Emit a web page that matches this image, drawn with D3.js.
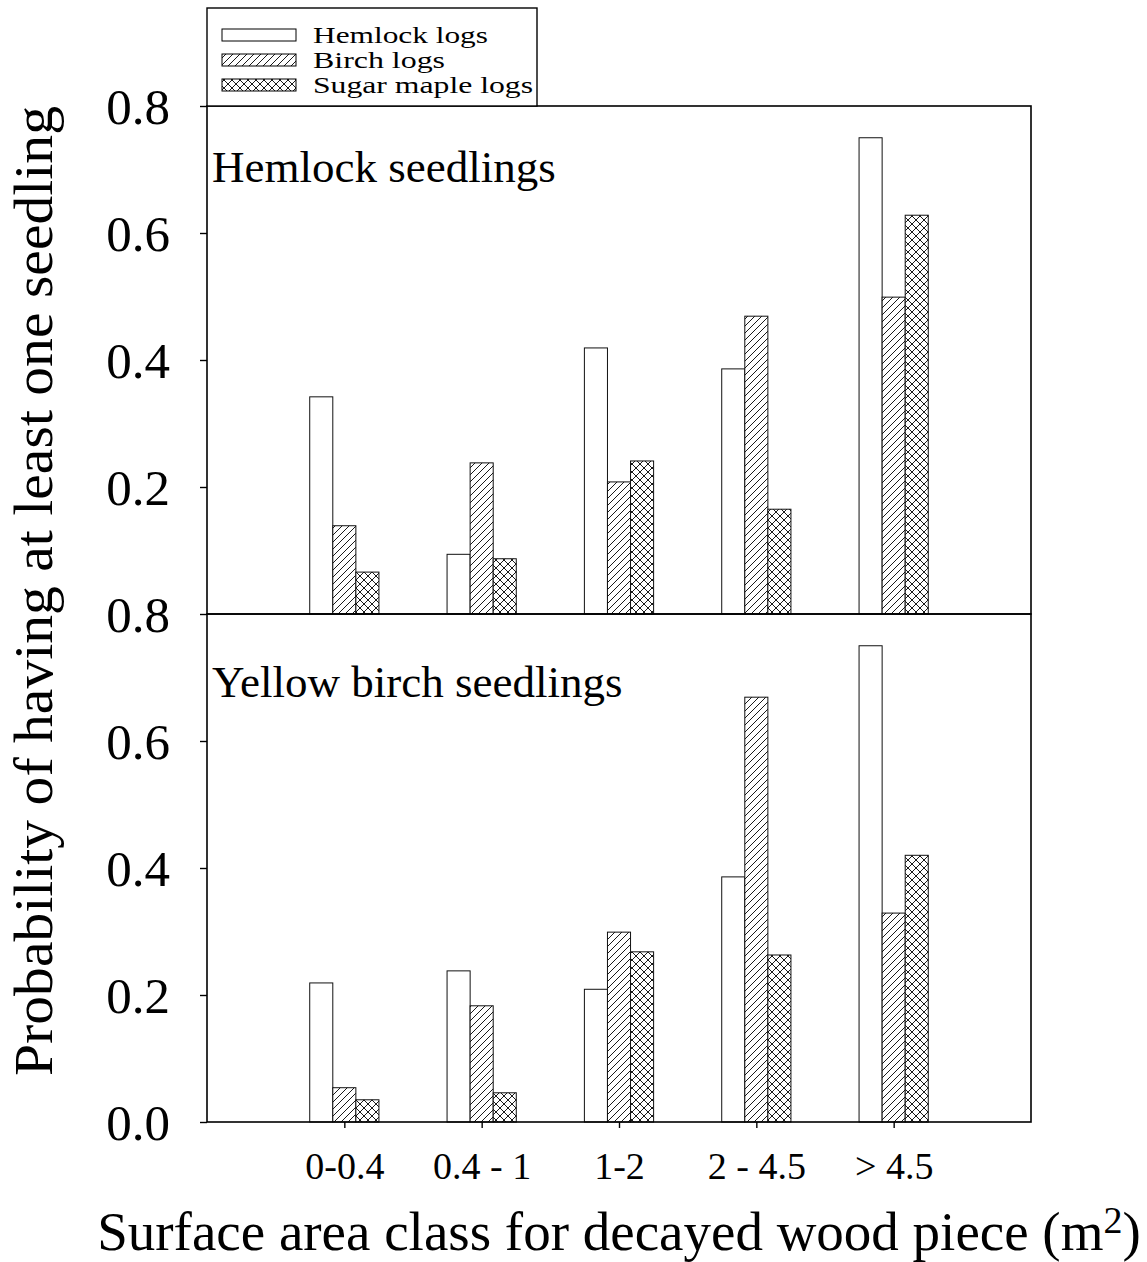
<!DOCTYPE html>
<html lang="en">
  <head>
    <meta charset="UTF-8" />
    <script src="https://d3js.org/d3.v7.min.js"></script>
    <title>Seedling probability by decayed wood surface area</title>
    <style>
      body { margin: 0; background: #fff; }
      text { font-family: "Liberation Serif", "Times New Roman", serif; fill: #000; }
    </style>
  </head>
  <body>
    <div id="chart"></div>
    <script>
      // categories and series
      var categories = ["0-0.4", "0.4 - 1", "1-2", "2 - 4.5", "> 4.5"];
      var series = ["Hemlock logs", "Birch logs", "Sugar maple logs"];

      // top panel: Hemlock seedlings
      var hemSeedHemlock = [0.342, 0.094, 0.419, 0.386, 0.75];
      var hemSeedBirch   = [0.139, 0.238, 0.208, 0.469, 0.499];
      var hemSeedMaple   = [0.066, 0.087, 0.241, 0.165, 0.628];

      // bottom panel: Yellow birch seedlings
      var ybSeedHemlock = [0.219, 0.238, 0.209, 0.386, 0.75];
      var ybSeedBirch   = [0.054, 0.183, 0.299, 0.669, 0.329];
      var ybSeedMaple   = [0.035, 0.046, 0.268, 0.263, 0.42];

      var topTicks = [0.2, 0.4, 0.6, 0.8];
      var bottomTicks = [0.0, 0.2, 0.4, 0.6, 0.8];

      var width = 1147, height = 1262;
      var left = 207, right = 1031;
      var step = (right - left) / (categories.length + 1);

      var svg = d3.select("#chart").append("svg")
        .attr("width", width)
        .attr("height", height);

      // hatch patterns
      var defs = svg.append("defs");
      var p1 = defs.append("pattern")
        .attr("id", "diag")
        .attr("patternUnits", "userSpaceOnUse")
        .attr("width", 7).attr("height", 7);
      p1.append("rect").attr("width", 7).attr("height", 7).attr("fill", "#fff");
      p1.append("path").attr("d", "M-1,1 l2,-2 M0,7 l7,-7 M6,8 l2,-2")
        .attr("stroke", "#000").attr("stroke-width", 0.9);

      var p2 = defs.append("pattern")
        .attr("id", "cross")
        .attr("patternUnits", "userSpaceOnUse")
        .attr("width", 8).attr("height", 8);
      p2.append("rect").attr("width", 8).attr("height", 8).attr("fill", "#fff");
      p2.append("path").attr("d", "M0,8 L8,0 M-1,1 l2,-2 M7,9 l2,-2 M0,0 L8,8 M-1,7 l2,2 M7,-1 l2,2")
        .attr("stroke", "#000").attr("stroke-width", 0.9);

      var fills = ["#fff", "url(#diag)", "url(#cross)"];

      var x = d3.scalePoint()
        .domain(categories)
        .range([left + step, right - step]);

      var xSub = d3.scaleBand()
        .domain(series)
        .range([-step * 0.252, step * 0.252]);

      var panels = [
        { title: "Hemlock seedlings", values: [hemSeedHemlock, hemSeedBirch, hemSeedMaple],
          top: 106, bottom: 614, ticks: topTicks, titleY: 182 },
        { title: "Yellow birch seedlings", values: [ybSeedHemlock, ybSeedBirch, ybSeedMaple],
          top: 614, bottom: 1122, ticks: bottomTicks, titleY: 697 }
      ];

      panels.forEach(function(p) {
        var y = d3.scaleLinear().domain([0, 0.8]).range([p.bottom, p.top]);
        var g = svg.append("g");

        // bars
        series.forEach(function(s, si) {
          g.selectAll(null)
            .data(p.values[si])
            .enter()
            .append("rect")
              .attr("x", function(d, i) { return x(categories[i]) + xSub(s); })
              .attr("y", function(d) { return y(d); })
              .attr("width", xSub.bandwidth())
              .attr("height", function(d) { return y(0) - y(d); })
              .attr("fill", fills[si])
              .attr("stroke", "#111")
              .attr("stroke-width", 1);
        });

        // frame
        g.append("rect")
          .attr("x", left).attr("y", p.top)
          .attr("width", right - left).attr("height", p.bottom - p.top)
          .attr("fill", "none").attr("stroke", "#000").attr("stroke-width", 1.6);

        // y axis
        var ax = g.append("g")
          .attr("transform", "translate(" + left + ",0)")
          .call(d3.axisLeft(y).tickValues(p.ticks).tickFormat(d3.format(".1f"))
            .tickSize(7).tickPadding(30));
        ax.select(".domain").remove();
        ax.selectAll(".tick line").attr("stroke", "#000").attr("stroke-width", 1.4);
        ax.selectAll(".tick text")
          .attr("font-family", "Liberation Serif")
          .attr("font-size", 51)
          .attr("dy", "0.34em");

        g.append("text")
          .attr("x", 212).attr("y", p.titleY)
          .attr("font-size", 45)
          .text(p.title);
      });

      // x axis ticks and labels
      var xa = svg.append("g")
        .attr("transform", "translate(0,1122)")
        .call(d3.axisBottom(x).tickSize(6).tickPadding(24));
      xa.select(".domain").remove();
      xa.selectAll(".tick line").attr("stroke", "#000").attr("stroke-width", 1.4);
      xa.selectAll(".tick text")
        .attr("font-family", "Liberation Serif")
        .attr("font-size", 38)
        .attr("dy", "0.71em");

      // axis titles
      svg.append("text")
        .attr("x", 619).attr("y", 1250)
        .attr("text-anchor", "middle")
        .attr("font-size", 55)
        .html("Surface area class for decayed wood piece (m<tspan font-size='38' dy='-17'>2</tspan><tspan dy='17'>)</tspan>");

      svg.append("text")
        .attr("transform", "translate(52,591) rotate(-90)")
        .attr("text-anchor", "middle")
        .attr("font-size", 55)
        .attr("textLength", 970)
        .attr("lengthAdjust", "spacingAndGlyphs")
        .text("Probability of having at least one seedling");

      // legend
      var legendWidths = [175, 132, 220];
      var leg = svg.append("g");
      leg.append("rect")
        .attr("x", 207).attr("y", 8).attr("width", 330).attr("height", 98)
        .attr("fill", "#fff").attr("stroke", "#000").attr("stroke-width", 1.4);
      var legY = [29, 54, 79];
      series.forEach(function(s, i) {
        leg.append("rect")
          .attr("x", 222).attr("y", legY[i])
          .attr("width", 74).attr("height", 12)
          .attr("fill", fills[i]).attr("stroke", "#000").attr("stroke-width", 1);
        leg.append("text")
          .attr("x", 313).attr("y", legY[i] + 14)
          .attr("font-size", 24)
          .attr("textLength", legendWidths[i])
          .attr("lengthAdjust", "spacingAndGlyphs")
          .text(s);
      });
    </script>
  </body>
</html>
